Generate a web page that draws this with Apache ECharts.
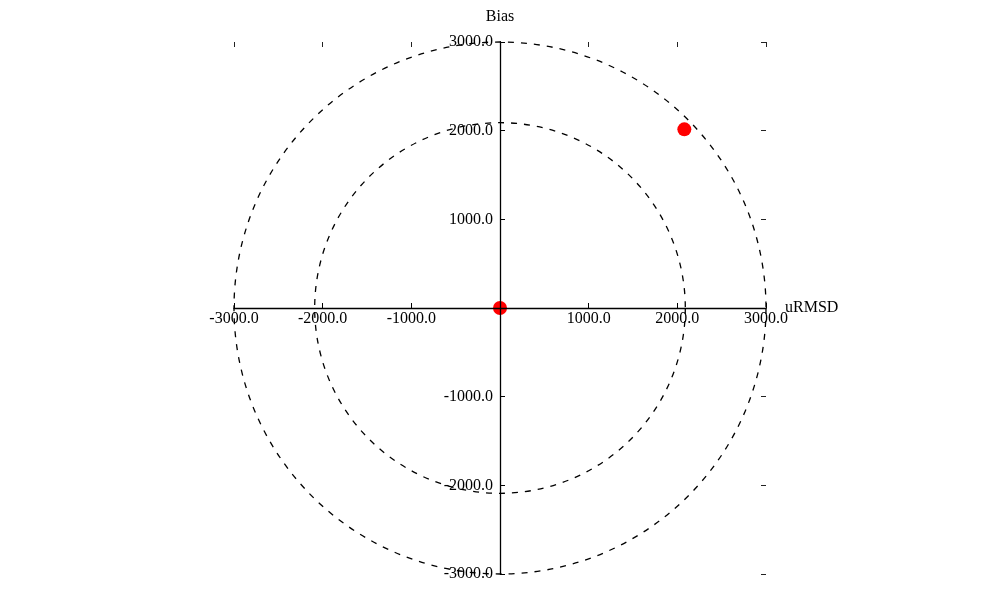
<!DOCTYPE html>
<html>
<head>
<meta charset="utf-8">
<script src="https://cdn.jsdelivr.net/npm/echarts@6/dist/echarts.min.js"></script>
<style>html,body{margin:0;padding:0;background:#fff}#c{width:1000px;height:600px}</style>
</head>
<body>
<div id="c"></div>
<script>
var axisMin = -3000, axisMax = 3000, axisStep = 1000;
var circleRadii = [2090, 3000];
var pointsX = [0, 2079];
var pointsY = [0, 2015];
var xName = 'uRMSD';
var yName = 'Bias';

var font = 'Liberation Serif';
var fs = 16;
function fmt(v) { return v === 0 ? '' : v.toFixed(1); }

var W = 1000, H = 600;
var gl = 234, gr = 234, gt = 42, gb = 26;
var gw = W - gl - gr, gh = H - gt - gb;

var chart = echarts.init(document.getElementById('c'));
chart.setOption({
  animation: false,
  backgroundColor: '#fff',
  grid: { left: gl, right: gr, top: gt, bottom: gb, containLabel: false, outerBoundsMode: 'none' },
  xAxis: [{
    type: 'value', min: axisMin, max: axisMax, interval: axisStep, z: 5,
    offset: -gh / 2,
    name: xName, nameLocation: 'end', nameGap: 19, nameMoveOverlap: false,
    nameTextStyle: { fontFamily: font, fontSize: fs, color: '#000', verticalAlign: 'middle' },
    axisLine: { show: true, onZero: false, lineStyle: { color: '#000', width: 1.3 } },
    axisTick: { show: true, inside: true, length: 5, lineStyle: { color: '#000', width: 1 } },
    axisLabel: { formatter: fmt, margin: 3, fontFamily: font, fontSize: fs, color: '#000', showMinLabel: true, showMaxLabel: true },
    splitLine: { show: false }
  }, {
    type: 'value', position: 'top', min: axisMin, max: axisMax, interval: axisStep,
    axisLine: { show: false, onZero: false },
    axisTick: { show: true, inside: true, length: 5, lineStyle: { color: '#222', width: 1 } },
    axisLabel: { show: false },
    splitLine: { show: false }
  }],
  yAxis: [{
    type: 'value', min: axisMin, max: axisMax, interval: axisStep, z: 5,
    offset: -gw / 2,
    name: yName, nameLocation: 'end', nameGap: 17, nameMoveOverlap: false,
    nameTextStyle: { fontFamily: font, fontSize: fs, color: '#000' },
    axisLine: { show: true, onZero: false, lineStyle: { color: '#000', width: 1.3 } },
    axisTick: { show: true, inside: true, length: 5, lineStyle: { color: '#000', width: 1 } },
    axisLabel: { formatter: fmt, margin: 7, fontFamily: font, fontSize: fs, color: '#000', showMinLabel: true, showMaxLabel: true },
    splitLine: { show: false }
  }, {
    type: 'value', position: 'right', min: axisMin, max: axisMax, interval: axisStep,
    axisLine: { show: false, onZero: false },
    axisTick: { show: true, inside: true, length: 5, lineStyle: { color: '#222', width: 1 } },
    axisLabel: { show: false },
    splitLine: { show: false }
  }],
  series: [{
    type: 'custom',
    xAxisIndex: 0, yAxisIndex: 0,
    data: circleRadii.map(function (r) { return [r, 0]; }),
    encode: { x: 0, y: 1 },
    renderItem: function (params, api) {
      var c = api.coord([0, 0]);
      var r = api.size([api.value(0), 0])[0];
      return {
        type: 'circle',
        shape: { cx: c[0], cy: c[1], r: r },
        style: { fill: 'none', stroke: '#000', lineWidth: 1.3, lineDash: [6, 7] }
      };
    },
    silent: true, z: 1
  }, {
    type: 'scatter',
    xAxisIndex: 0, yAxisIndex: 0,
    data: pointsX.map(function (x, i) { return [x, pointsY[i]]; }),
    symbol: 'circle', symbolSize: 14,
    itemStyle: { color: '#ff0000', opacity: 1 },
    z: 2
  }]
});
</script>
</body>
</html>
